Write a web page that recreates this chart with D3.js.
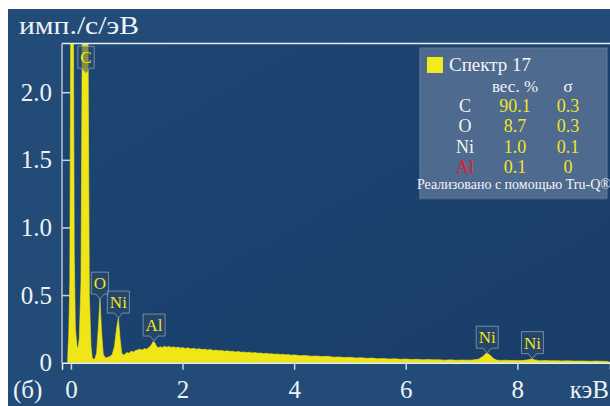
<!DOCTYPE html>
<html>
<head>
<meta charset="utf-8">
<script src="https://cdn.jsdelivr.net/npm/d3@7"></script>
<style>
  html, body { margin: 0; padding: 0; background: #ffffff; }
  svg { display: block; }
</style>
</head>
<body>
<svg id="chart" width="610" height="406"></svg>
<script>
// EDS spectrum: energy (keV) and intensity (imp./s/eV)
const spectrum = [
  [-0.06, 0.0], [-0.05, 0.12], [-0.04, 0.2], [-0.02, 0.6], [0.0, 3.0], [0.04, 3.0],
  [0.06, 0.8], [0.08, 0.25], [0.11, 0.12], [0.13, 0.11], [0.15, 0.18], [0.18, 0.6],
  [0.21, 3.0], [0.30, 3.0], [0.33, 0.5], [0.36, 0.12], [0.38, 0.04], [0.40, 0.025],
  [0.43, 0.03], [0.46, 0.07], [0.49, 0.25], [0.52, 0.47], [0.55, 0.22], [0.58, 0.06],
  [0.62, 0.035], [0.66, 0.04], [0.70, 0.045], [0.74, 0.06], [0.78, 0.12], [0.82, 0.26],
  [0.85, 0.33], [0.88, 0.18], [0.91, 0.07], [0.95, 0.055], [1.00, 0.075], [1.04, 0.07],
  [1.08, 0.085], [1.12, 0.08], [1.16, 0.09], [1.20, 0.095], [1.24, 0.1], [1.28, 0.093],
  [1.32, 0.105], [1.36, 0.1], [1.40, 0.115], [1.44, 0.13], [1.47, 0.155], [1.50, 0.15],
  [1.53, 0.125], [1.56, 0.11], [1.60, 0.118], [1.64, 0.112], [1.68, 0.122], [1.72, 0.115],
  [1.76, 0.12], [1.80, 0.113], [1.84, 0.118], [1.88, 0.11], [1.92, 0.116], [1.96, 0.108],
  [2.00, 0.112], [2.05, 0.105], [2.10, 0.11], [2.15, 0.102], [2.20, 0.107], [2.25, 0.1],
  [2.30, 0.104], [2.35, 0.097], [2.40, 0.1], [2.45, 0.094], [2.50, 0.098], [2.55, 0.09],
  [2.60, 0.094], [2.65, 0.088], [2.70, 0.091], [2.75, 0.085], [2.80, 0.088], [2.85, 0.082],
  [2.90, 0.085], [2.95, 0.08], [3.00, 0.083], [3.05, 0.077], [3.10, 0.08], [3.15, 0.075],
  [3.20, 0.078], [3.25, 0.072], [3.30, 0.075], [3.35, 0.07], [3.40, 0.072], [3.45, 0.067],
  [3.50, 0.07], [3.55, 0.065], [3.60, 0.067], [3.65, 0.062], [3.70, 0.065], [3.75, 0.06],
  [3.80, 0.062], [3.85, 0.058], [3.90, 0.06], [3.95, 0.055], [4.00, 0.058], [4.10, 0.052],
  [4.20, 0.054], [4.30, 0.048], [4.40, 0.05], [4.50, 0.045], [4.60, 0.047], [4.70, 0.041],
  [4.80, 0.043], [4.90, 0.038], [5.00, 0.04], [5.10, 0.035], [5.20, 0.037], [5.30, 0.032],
  [5.40, 0.034], [5.50, 0.029], [5.60, 0.031], [5.70, 0.027], [5.80, 0.029], [5.90, 0.025],
  [6.00, 0.027], [6.10, 0.023], [6.20, 0.025], [6.30, 0.022], [6.40, 0.024], [6.50, 0.021],
  [6.60, 0.022], [6.70, 0.019], [6.80, 0.021], [6.90, 0.018], [7.00, 0.02], [7.10, 0.018],
  [7.20, 0.02], [7.30, 0.025], [7.38, 0.045], [7.44, 0.07], [7.50, 0.06], [7.56, 0.035],
  [7.62, 0.02], [7.70, 0.017], [7.80, 0.018], [7.90, 0.016], [8.00, 0.017], [8.10, 0.016],
  [8.20, 0.022], [8.26, 0.028], [8.32, 0.02], [8.40, 0.015], [8.50, 0.016], [8.60, 0.014],
  [8.70, 0.015], [8.80, 0.013], [8.90, 0.014], [9.00, 0.012], [9.10, 0.013], [9.20, 0.012],
  [9.30, 0.011], [9.40, 0.012], [9.50, 0.011], [9.60, 0.01], [9.70, 0.0]
];

// Peak markers: element, line energy (keV), marker tip height
const peakElements = ["C", "O", "Ni", "Al", "Ni", "Ni"];
const peakEnergies = [0.27, 0.52, 0.85, 1.49, 7.46, 8.27];
const peakHeights  = [2.14, 0.47, 0.33, 0.16, 0.07, 0.03];

// Quantification table
const legendTitle = "Спектр 17";
const tableElements = ["C", "O", "Ni", "Al"];
const tableWeight   = ["90.1", "8.7", "1.0", "0.1"];
const tableSigma    = ["0.3", "0.3", "0.1", "0"];
const footerNote = "Реализовано с помощью Tru-Q®";

const xTicks = [0, 2, 4, 6, 8];
const yTicks = [0, 0.5, 1.0, 1.5, 2.0];
const yTickLabels = ["0", "0.5", "1.0", "1.5", "2.0"];

const SERIF = "'Liberation Serif', 'Times New Roman', serif";
const svg = d3.select("#chart");
const W = 610, H = 406;
const plot = { left: 62, right: 610, top: 43.5, bottom: 362.7 };

const x = d3.scaleLinear().domain([-0.16, 9.66]).range([plot.left, plot.right]);
const y = d3.scaleLinear().domain([0, 2.36]).range([plot.bottom, plot.top]);

const defs = svg.append("defs");
const grad = defs.append("linearGradient").attr("id", "plotBg")
  .attr("x1", "0").attr("y1", "0").attr("x2", "1").attr("y2", "1");
grad.append("stop").attr("offset", "0").attr("stop-color", "#1d4673");
grad.append("stop").attr("offset", "1").attr("stop-color", "#193d69");
defs.append("clipPath").attr("id", "plotClip").append("rect")
  .attr("x", plot.left).attr("y", plot.top)
  .attr("width", plot.right - plot.left).attr("height", plot.bottom - plot.top + 1);

// outer panel
svg.append("rect").attr("x", 8).attr("y", 9).attr("width", W - 8).attr("height", H - 9)
  .attr("fill", "#224c77");

// plot area
svg.append("rect").attr("x", plot.left).attr("y", plot.top)
  .attr("width", plot.right - plot.left).attr("height", plot.bottom - plot.top)
  .attr("fill", "url(#plotBg)");

// spectrum
const area = d3.area().x(d => x(d[0])).y0(y(0)).y1(d => y(d[1]));
svg.append("g").attr("clip-path", "url(#plotClip)")
  .append("path").datum(spectrum)
  .attr("d", area)
  .attr("fill", "#efe517")
  .attr("stroke", "#efe517").attr("stroke-width", 0.6);

// frame lines
svg.append("line").attr("x1", plot.left).attr("x2", plot.right)
  .attr("y1", plot.top).attr("y2", plot.top)
  .attr("stroke", "#e8edf3").attr("stroke-width", 1.5);
svg.append("line").attr("x1", plot.left).attr("x2", plot.left)
  .attr("y1", plot.top).attr("y2", plot.bottom)
  .attr("stroke", "#b9c4d2").attr("stroke-width", 1.5);

function serifText(sel, size) {
  return sel.attr("font-family", null).style("font-family", SERIF).style("font-size", size + "px");
}

// x axis
const xAxis = d3.axisBottom(x).tickValues(xTicks).tickSize(7).tickPadding(9)
  .tickFormat(d3.format("d"));
const gx = svg.append("g").attr("transform", `translate(0,${plot.bottom})`).call(xAxis)
  .attr("font-family", null);
gx.select(".domain").attr("stroke", "#e8edf3").attr("stroke-width", 1.5);
gx.selectAll(".tick line").attr("stroke", "#c9d2de").attr("stroke-width", 1.5);
serifText(gx.selectAll(".tick text"), 25).attr("fill", "#eef2f6").attr("dy", null).attr("y", 35);

// y axis with inward ticks
const yAxis = d3.axisRight(y).tickValues(yTicks).tickSize(8)
  .tickFormat((d, i) => yTickLabels[i]);
const gy = svg.append("g").attr("transform", `translate(${plot.left},0)`).call(yAxis)
  .attr("font-family", null);
gy.select(".domain").remove();
gy.selectAll(".tick line").attr("stroke", "#c9d2de").attr("stroke-width", 1.5)
  .filter(d => d === 0).remove();
serifText(gy.selectAll(".tick text"), 25).attr("fill", "#eef2f6")
  .attr("text-anchor", "end").attr("x", -10);

// axis captions
serifText(svg.append("text"), 25).attr("x", 19).attr("y", 34).attr("fill", "#eef2f6")
  .attr("textLength", 120).attr("lengthAdjust", "spacingAndGlyphs")
  .text("имп./с/эВ");
serifText(svg.append("text"), 25).attr("x", 13).attr("y", 398).attr("fill", "#eef2f6")
  .text("(б)");
serifText(svg.append("text"), 25).attr("x", 609).attr("y", 398).attr("fill", "#eef2f6")
  .attr("text-anchor", "end").text("кэВ");

// peak markers
const markers = svg.append("g").attr("clip-path", "url(#plotClip)");
peakElements.forEach((el, i) => {
  const cx = x(peakEnergies[i]);
  const tip = y(peakHeights[i]);
  const g = markers.append("g");
  const t = serifText(g.append("text"), 17).attr("x", cx).attr("y", tip - 10)
    .attr("text-anchor", "middle").attr("fill", "#f1e626").text(el);
  const w = t.node().getComputedTextLength() + 5;
  const bh = 22, tail = 5;
  const x0 = cx - w / 2, x1 = cx + w / 2, yb = tip - tail, yt = yb - bh;
  g.insert("path", "text")
    .attr("d", `M${x0},${yt}H${x1}V${yb}H${cx + 4}L${cx},${tip}L${cx - 4},${yb}H${x0}Z`)
    .attr("fill", "rgba(45,72,102,0.55)")
    .attr("stroke", "rgba(150,172,196,0.7)").attr("stroke-width", 1);
});

// quantification legend
const lg = svg.append("g");
const L = { x: 420, y: 48, w: 187, h: 150 };
lg.append("rect").attr("x", L.x - 1).attr("y", L.y + 1).attr("width", L.w + 1).attr("height", L.h + 1)
  .attr("fill", "#2f4e72");
lg.append("rect").attr("x", L.x).attr("y", L.y).attr("width", L.w).attr("height", L.h)
  .attr("fill", "#4e6a8e").attr("stroke", "#5e7a9c").attr("stroke-width", 1);
lg.append("rect").attr("x", 427).attr("y", 57).attr("width", 16).attr("height", 16)
  .attr("fill", "#f3ea1c");
serifText(lg.append("text"), 19).attr("x", 449).attr("y", 71).attr("fill", "#f2f4f7")
  .text(legendTitle);
const colEl = 465, colW = 515, colS = 568;
serifText(lg.append("text"), 17).attr("x", colW).attr("y", 92).attr("text-anchor", "middle")
  .attr("fill", "#f2f4f7").text("вес. %");
serifText(lg.append("text"), 17).attr("x", colS).attr("y", 92).attr("text-anchor", "middle")
  .attr("fill", "#f2f4f7").text("σ");
tableElements.forEach((el, i) => {
  const yy = 112 + i * 20.3;
  serifText(lg.append("text"), 18).attr("x", colEl).attr("y", yy).attr("text-anchor", "middle")
    .attr("fill", el === "Al" ? "#e8202c" : "#f2f4f7").text(el);
  serifText(lg.append("text"), 18).attr("x", colW).attr("y", yy).attr("text-anchor", "middle")
    .attr("fill", "#f0e52a").text(tableWeight[i]);
  serifText(lg.append("text"), 18).attr("x", colS).attr("y", yy).attr("text-anchor", "middle")
    .attr("fill", "#f0e52a").text(tableSigma[i]);
});
serifText(lg.append("text"), 14).attr("x", 417).attr("y", 189).attr("fill", "#f2f4f7")
  .text(footerNote);
</script>
</body>
</html>
